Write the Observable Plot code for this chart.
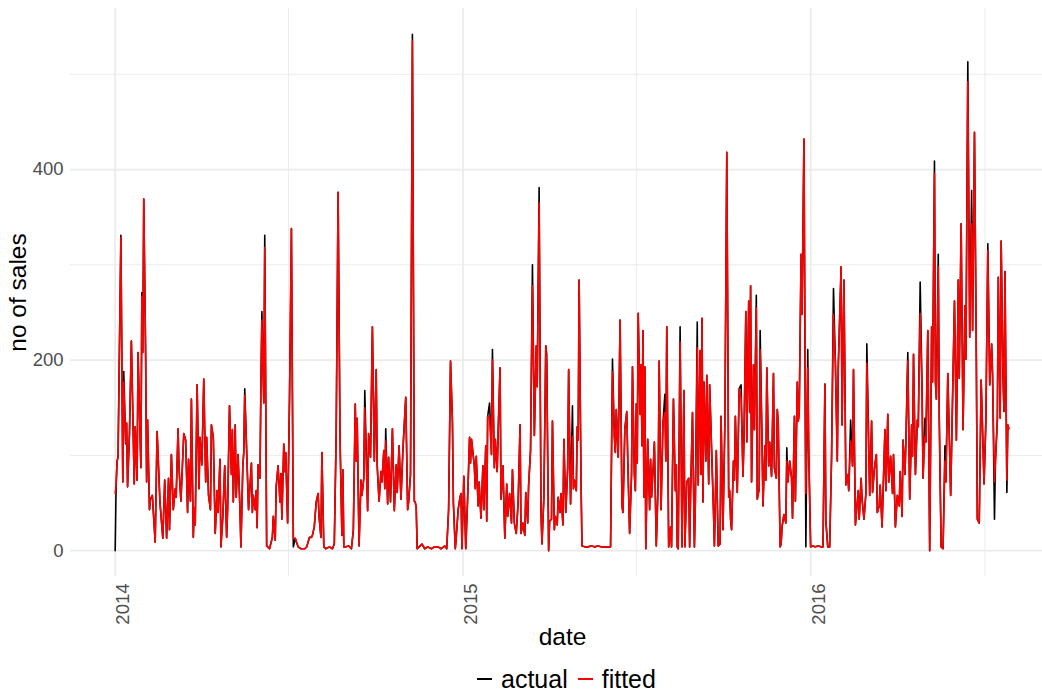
<!DOCTYPE html>
<html>
<head>
<meta charset="utf-8">
<script src="https://cdn.jsdelivr.net/npm/d3@7"></script>
<script src="https://cdn.jsdelivr.net/npm/@observablehq/plot@0.6"></script>
<style>
  html, body { margin: 0; padding: 0; background: #fff; }
  #wrap { position: relative; width: 1042px; height: 694px; overflow: hidden; font-family: "Liberation Sans", Arial, sans-serif; }
  #legend { position: absolute; left: 477px; top: 665px; height: 28px; line-height: 28px; display: flex; align-items: center; font-size: 25px; color: #000; white-space: nowrap; }
  #legend .key { display: inline-block; width: 15px; height: 2px; margin-right: 9px; }
  #legend .lab { margin-right: 10px; }
</style>
</head>
<body>
<div id="wrap">
  <div id="chart"></div>
  <div id="legend"></div>
</div>
<script>
// day offsets from 2014-01-01
const startDate = "2014-01-01";
const days = [
0,1,2,3,6,8,9,11,12,13,15,17,20,21,23,24,27,28,29,30,
32,33,34,36,37,39,42,44,47,50,52,54,56,57,59,61,63,64,66,67,
69,72,74,76,77,79,80,82,83,84,86,88,89,91,93,95,96,98,
100,101,103,105,107,108,110,111,113,115,117,118,120,122,123,124,126,127,129,131,
132,134,135,136,138,140,143,144,145,147,148,149,150,152,153,154,156,157,159,162,
165,166,168,169,171,173,174,175,177,178,179,181,183,185,187,189,192,195,199,201,204,
206,207,209,211,213,214,216,217,219,221,225,228,230,232,234,236,238,239,240,242,
245,248,250,252,253,254,256,258,259,261,262,265,266,268,270,272,274,275,277,279,
280,282,283,284,286,287,289,291,293,295,296,298,300,302,305,307,308,310,312,314,315,
316,317,319,322,325,328,332,335,339,342,346,348,350,352,354,355,357,358,360,362,
363,364,366,368,370,372,373,374,377,378,379,381,382,384,386,387,389,390,391,393,
395,396,398,399,401,402,404,405,407,409,411,412,414,416,417,419,421,423,425,
426,428,430,431,433,434,436,438,440,442,443,445,447,448,450,452,453,455,456,458,
459,461,462,464,465,467,468,470,471,473,475,476,478,480,481,482,484,485,486,487,
489,490,493,496,500,503,507,510,514,517,520,522,524,525,526,528,530,532,533,535,
537,538,540,542,543,545,546,547,548,549,551,552,553,554,555,556,557,559,561,562,
563,565,566,568,570,571,573,575,577,578,579,581,583,584,586,588,589,590,591,593,
595,597,598,600,602,603,604,606,608,609,611,612,614,615,616,617,618,620,621,623,
624,626,628,629,631,633,635,636,638,640,642,644,645,646,
647,649,650,651,653,655,657,659,660,662,663,665,666,667,668,670,671,673,674,676,
677,679,680,682,683,684,686,687,689,691,692,694,695,696,698,699,700,702,704,705,
706,708,710,711,713,714,716,717,718,720,721,723,725,727,728,730,732,735,738,741,
743,745,746,748,750,752,754,756,
758,759,762,763,765,767,769,770,772,774,775,777,780,781,783,784,786,788,789,792,
794,795,797,799,800,802,803,805,808,809,811,812,814,816,817,819,821,823,824,826,
827,829,830,832,834,836,837,838,840,842,843,845,847,848,850,851,853,855,857,858,
860,861,862,864,865,867,869,
871,872,874,876,877,881,883,885,886,888,890,892,893,895,897,899,900,902,904,905,
907,909,911,912,914,916,918,920,921,923,924,926,927,929,930,932,933,934,936,937,938
];
const actual = [
0,69,94,98,331,72,188,112,134,67,123,220,70,130,74,208,87,271,208,369,
202,72,137,43,54,58,9,125,51,13,74,13,76,22,101,43,65,56,128,87,
52,123,116,40,96,52,159,14,45,27,174,65,119,90,180,72,119,58,
43,132,119,18,63,40,96,4,36,89,14,43,152,80,127,51,132,56,101,43,
4,89,103,170,105,43,92,40,58,43,63,24,90,76,177,251,155,331,5,2,
14,36,11,67,89,51,81,33,112,83,103,29,159,338,4,13,4,2,2,4,14,
14,16,25,51,60,36,14,103,4,2,4,2,7,123,376,119,16,85,4,4,
5,2,22,154,94,139,5,74,58,76,168,42,123,98,235,94,190,90,52,83,
72,105,65,128,49,98,51,128,42,90,61,110,54,105,161,43,51,80,542,52,51,
45,2,4,7,2,4,2,4,4,2,5,2,43,199,136,51,2,14,43,56,
60,2,78,2,56,119,92,117,89,65,99,47,72,34,89,43,110,31,141,155,
101,211,87,117,83,125,192,54,89,13,70,36,60,29,85,29,18,51,132,
18,29,16,61,29,69,105,300,121,215,172,381,40,7,56,215,206,0,31,33,
136,22,36,27,56,40,60,27,117,40,87,190,49,152,65,74,63,130,116,284,
72,5,4,4,5,4,5,4,4,4,4,201,119,103,148,98,242,47,40,128,
146,98,18,80,193,80,63,154,92,249,143,195,110,231,56,193,2,117,43,96,
56,92,114,5,72,199,43,134,164,94,235,4,25,4,159,63,90,4,2,235,
4,168,4,72,76,4,60,145,4,51,240,69,210,80,244,51,177,94,184,70,
174,108,43,5,105,5,7,141,22,134,418,56,63,33,
22,94,74,141,61,170,174,78,116,251,114,262,145,278,72,195,127,268,54,65,
231,114,47,110,74,192,89,114,78,186,87,76,148,134,4,7,25,38,29,108,
72,94,76,34,141,52,177,136,143,311,248,432,4,211,105,4,5,4,5,4,
4,175,31,4,4,99,275,197,
94,192,298,132,284,69,80,63,137,89,190,27,63,33,76,54,33,60,217,58,
136,61,87,101,40,47,69,25,127,63,143,72,99,60,101,25,58,47,83,36,
116,80,114,208,54,132,99,206,80,137,130,282,166,76,139,114,231,0,235,177,
409,177,159,311,141,4,2,
110,72,186,101,58,262,116,284,181,343,127,257,201,513,224,378,231,439,195,33,
29,179,108,70,137,322,174,217,184,33,94,137,287,139,325,179,146,293,61,132,128
];
const fitted = [
60,69,94,98,329,72,177,112,134,67,123,220,70,130,74,208,87,267,208,369,
202,72,137,43,54,58,9,125,51,13,74,13,76,22,101,43,65,56,128,87,
52,123,116,40,96,52,159,14,45,27,174,65,119,90,180,72,119,58,
43,132,119,18,63,40,96,4,36,89,14,43,152,80,127,51,132,56,101,43,
4,89,103,163,105,43,92,40,58,43,63,24,90,76,177,242,155,318,5,2,
14,36,11,67,89,51,81,33,112,83,103,29,159,338,13,13,4,2,2,4,14,
14,16,25,51,60,36,14,103,4,2,4,2,7,123,376,119,16,85,4,4,
5,2,22,154,94,139,5,74,58,76,150,42,123,98,235,94,190,90,52,83,
72,105,65,115,49,98,51,128,42,90,61,110,54,105,161,43,51,80,535,52,51,
45,2,4,7,2,4,2,4,4,2,5,2,43,199,136,51,2,14,43,56,
60,2,78,2,56,119,92,117,89,65,99,47,72,34,89,43,110,31,141,139,
101,200,87,117,83,125,192,54,89,13,70,36,60,29,85,29,18,51,132,
18,29,16,61,29,69,105,278,121,215,172,365,40,7,56,215,190,0,31,33,
136,22,36,27,56,40,60,27,117,40,87,190,49,120,65,74,63,130,116,284,
72,5,4,4,5,4,5,4,4,4,4,188,119,103,148,98,242,47,40,128,
146,98,18,80,193,80,63,154,92,249,143,195,110,231,56,193,2,117,43,96,
56,92,114,5,72,199,43,134,145,94,235,4,25,4,159,63,90,4,2,219,
4,168,4,72,76,4,60,145,4,51,213,69,210,80,244,51,177,94,184,70,
174,108,43,5,105,5,7,141,22,134,418,56,63,33,
22,94,74,141,61,170,160,78,116,251,114,262,145,278,72,195,127,255,54,65,
211,114,47,110,74,192,89,114,78,186,87,76,148,134,4,7,25,38,29,94,
72,94,76,34,141,52,177,136,143,311,248,432,60,192,105,4,5,4,5,4,
4,175,31,4,4,99,248,197,
94,192,298,132,284,69,80,63,115,89,190,27,63,33,76,54,33,60,197,58,
136,61,87,101,40,47,69,25,127,63,143,72,99,60,101,25,58,47,83,36,
116,80,114,199,54,132,99,206,80,137,130,249,166,76,120,114,231,0,235,177,
396,177,159,298,141,4,2,
94,72,186,101,58,262,116,284,181,343,127,257,201,492,224,343,231,439,195,33,
29,179,108,70,137,315,174,217,184,72,94,137,287,139,325,179,146,293,74,132,128
];
const yearTicks = ["2014-01-01", "2015-01-01", "2016-01-01"];
const yearMinor = ["2014-07-02", "2015-07-02", "2016-07-02"];
const yearLabels = ["2014", "2015", "2016"];
const yTicks = [0, 200, 400];
const yMinor = [100, 300, 500];
const seriesNames = ["actual", "fitted"];
const seriesColors = ["#000000", "#ff0000"];

if (actual.length !== days.length || fitted.length !== days.length) {
  throw new Error("length mismatch " + days.length + " " + actual.length + " " + fitted.length);
}

const t0 = d3.utcParse("%Y-%m-%d")(startDate);
const data = days.map((d, i) => ({date: d3.utcDay.offset(t0, d), actual: actual[i], fitted: fitted[i]}));
const parse = d3.utcParse("%Y-%m-%d");
const majors = yearTicks.map(parse);
const minors = yearMinor.map(parse);
const ticksData = majors.map((d, i) => ({date: d, label: yearLabels[i]}));

// ggplot-like 5% expansion; the panel runs off the right edge of the picture
const xDomain = [new Date(t0.getTime() - 46.9 * 864e5), new Date(t0.getTime() + 973.4 * 864e5)];
const font = "'Liberation Sans', Arial, sans-serif";

const chart = Plot.plot({
  width: 1042,
  height: 660,
  marginLeft: 70,
  marginRight: 0,
  marginTop: 8,
  marginBottom: 84,
  style: {fontFamily: font, background: "#fff", overflow: "visible"},
  x: {type: "utc", domain: xDomain, axis: null},
  y: {domain: [-27.1, 569], axis: null},
  marks: [
    Plot.gridY(yMinor, {stroke: "#ebebeb", strokeOpacity: 1, strokeWidth: 1}),
    Plot.gridX(minors, {stroke: "#ebebeb", strokeOpacity: 1, strokeWidth: 1}),
    Plot.gridY(yTicks, {stroke: "#ebebeb", strokeOpacity: 1, strokeWidth: 1.8}),
    Plot.gridX(majors, {stroke: "#ebebeb", strokeOpacity: 1, strokeWidth: 1.8}),
    Plot.lineY(data, {x: "date", y: "actual", stroke: seriesColors[0], strokeWidth: 1.6}),
    Plot.lineY(data, {x: "date", y: "fitted", stroke: seriesColors[1], strokeWidth: 1.6}),
    Plot.text(yTicks, {y: d => d, text: d => String(d), frameAnchor: "left", textAnchor: "end", dx: -7, fontSize: 18.5, fill: "#4d4d4d"}),
    Plot.text(ticksData, {x: "date", text: "label", frameAnchor: "bottom", rotate: -90, textAnchor: "end", lineAnchor: "top", dy: 7, dx: 1, fontSize: 18.5, fill: "#4d4d4d"}),
    Plot.text(["date"], {frameAnchor: "bottom", dx: 6, dy: 68, fontSize: 24.5, fill: "#000"}),
    Plot.text(["no of sales"], {frameAnchor: "left", textAnchor: "middle", rotate: -90, dx: -52, fontSize: 24.5, fill: "#000"})
  ]
});
document.getElementById("chart").appendChild(chart);

const legend = document.getElementById("legend");
seriesNames.forEach((name, i) => {
  const k = document.createElement("span");
  k.className = "key";
  k.style.background = seriesColors[i];
  const l = document.createElement("span");
  l.className = "lab";
  l.textContent = name;
  legend.appendChild(k);
  legend.appendChild(l);
});
</script>
</body>
</html>
